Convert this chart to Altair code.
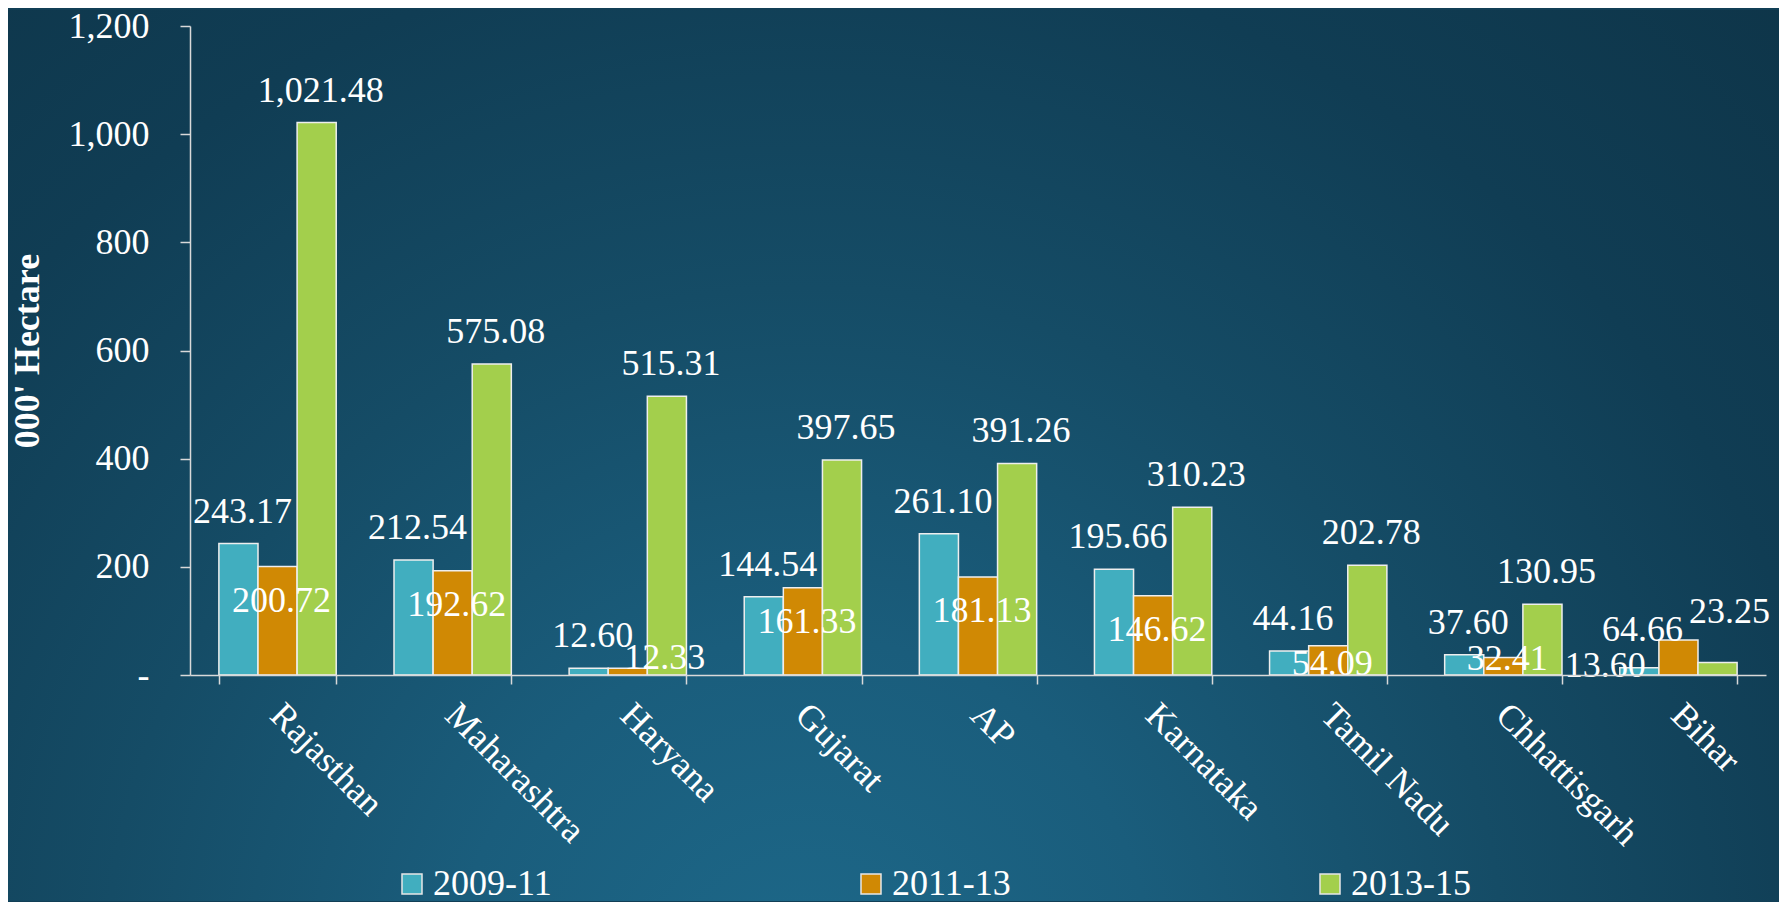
import altair as alt
import pandas as pd

# ---- data ----
states = ["Rajasthan", "Maharashtra", "Haryana", "Gujarat", "AP",
          "Karnataka", "Tamil Nadu", "Chhattisgarh", "Bihar"]
periods = ["2009-11", "2011-13", "2013-15"]
v_2009_11 = [243.17, 212.54, 12.60, 144.54, 261.10, 195.66, 44.16, 37.60, 13.60]
v_2011_13 = [200.72, 192.62, 12.33, 161.33, 181.13, 146.62, 54.09, 32.41, 64.66]
v_2013_15 = [1021.48, 575.08, 515.31, 397.65, 391.26, 310.23, 202.78, 130.95, 23.25]
y_ticks = [0, 200, 400, 600, 800, 1000, 1200]
colors = ["#41aebf", "#d08904", "#a3cf4c"]

# hand-placed data labels in the original slide (pixel nudges, dx, dy)
label_nudges = {
    ("Haryana", "2011-13"): (33, -6),
    ("Chhattisgarh", "2011-13"): (0, -5),
    ("Bihar", "2009-11"): (-38, 30),
    ("Bihar", "2011-13"): (-40, -34),
    ("Bihar", "2013-15"): (8, -19),
}

rows = []
for i, s in enumerate(states):
    for p, vals in zip(periods, [v_2009_11, v_2011_13, v_2013_15]):
        ndx, ndy = label_nudges.get((s, p), (0, 0))
        rows.append({"state": s, "period": p, "value": vals[i], "ldx": ndx, "ldy": ndy})
df = pd.DataFrame(rows)

W, H = 1576, 649
FONT = "Liberation Serif"
AXIS_COL = "#d9d9d9"

x_enc = alt.X(
    "state:N", sort=states,
    scale=alt.Scale(paddingInner=0.33, paddingOuter=0.165),
    axis=alt.Axis(title=None, labelAngle=45, labelAlign="left", labelBaseline="top",
                  labelFont=FONT, labelFontSize=36, labelColor="white", labelPadding=13,
                  labelOffset=10, labelLimit=500,
                  tickBand="extent", tickSize=9, tickColor=AXIS_COL, tickWidth=1.5,
                  domainColor=AXIS_COL, domainWidth=1.5, grid=False, zindex=1),
)
xo_enc = alt.XOffset("period:N", sort=periods,
                     scale=alt.Scale(paddingInner=0, paddingOuter=0))

y_enc = alt.Y(
    "value:Q",
    scale=alt.Scale(domain=[0, 1200], nice=False),
    axis=alt.Axis(values=y_ticks,
                  labelExpr="datum.value == 0 ? '-' : format(datum.value, ',')",
                  title="000' Hectare", titleFont=FONT, titleFontSize=36,
                  titleFontWeight="bold", titleColor="white", titlePadding=22,
                  labelFont=FONT, labelFontSize=36, labelColor="white", labelPadding=31,
                  tickSize=10, tickColor=AXIS_COL, tickWidth=1.5,
                  domainColor=AXIS_COL, domainWidth=1.5, grid=False, zindex=1),
)

bars = alt.Chart(df).mark_bar(stroke="#eeeeee", strokeWidth=1.5).encode(
    x=x_enc,
    y=y_enc,
    xOffset=xo_enc,
    color=alt.Color(
        "period:N", sort=periods,
        scale=alt.Scale(domain=periods, range=colors),
        legend=alt.Legend(title=None, orient="none", legendX=204, legendY=840,
                          direction="horizontal", symbolType="square", symbolSize=400,
                          symbolStrokeColor="#e6e6e6", symbolStrokeWidth=1.5,
                          labelFont=FONT, labelFontSize=36, labelColor="white",
                          labelOffset=3, columnPadding=301, zindex=1),
    ),
)

labels = alt.Chart(df).transform_calculate(
    label_y="datum.period == '2011-13' ? max(datum.value - 63, 20) : datum.value + 59"
).mark_text(font=FONT, fontSize=36, color="white", baseline="middle",
            dx=alt.expr("datum.ldx + 4"), dy=alt.expr("datum.ldy")).encode(
    x=alt.X("state:N", sort=states),
    xOffset=alt.XOffset("period:N", sort=periods),
    y=alt.Y("label_y:Q"),
    text=alt.Text("value:Q", format=",.2f"),
)

grad = alt.RadialGradient(
    gradient="radial",
    stops=[
        alt.GradientStop(offset=0, color="#1d6889"),
        alt.GradientStop(offset=0.25, color="#1a5d7c"),
        alt.GradientStop(offset=0.5, color="#154c66"),
        alt.GradientStop(offset=0.75, color="#103d54"),
        alt.GradientStop(offset=1, color="#0e3549"),
    ],
    x1=0.45, y1=0.8, r1=0, x2=0.45, y2=0.8, r2=0.79,
)

bg = alt.Chart(alt.Data(values=[{"k": 1}])).mark_rect(fill=grad).encode(
    x=alt.value(-182), x2=alt.value(1589), y=alt.value(-16), y2=alt.value(875)
)

chart = alt.layer(bg, bars, labels).properties(
    width=W, height=H, padding=0, background="#113f56"
).configure_view(stroke=None)

chart.save("out.html", embed_options={"renderer": "svg", "actions": False})
